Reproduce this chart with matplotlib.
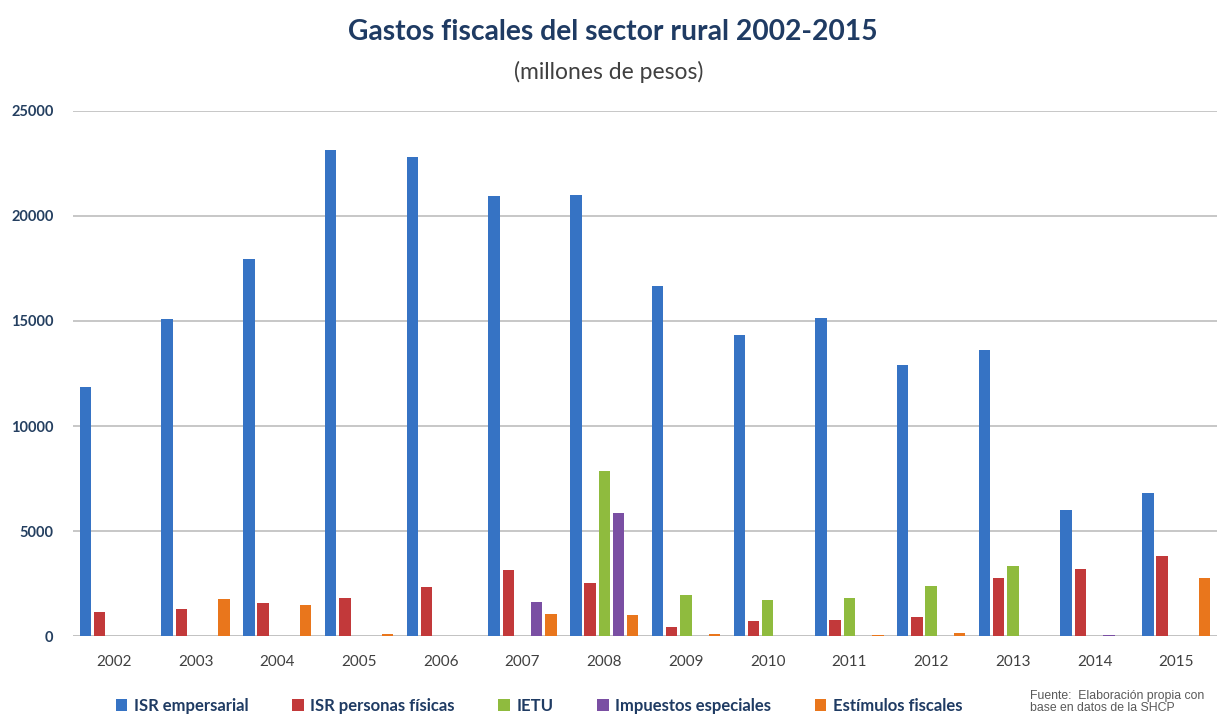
import matplotlib.pyplot as plt
from matplotlib.patches import Patch
import numpy as np

years = ['2002', '2003', '2004', '2005', '2006', '2007', '2008',
         '2009', '2010', '2011', '2012', '2013', '2014', '2015']

isr_empresarial = [11850, 15100, 17950, 23150, 22800, 20950, 21000,
                   16650, 14350, 15150, 12900, 13600, 6000, 6800]
isr_personas = [1150, 1300, 1570, 1830, 2330, 3140, 2510,
                450, 700, 760, 890, 2750, 3190, 3810]
ietu = [0, 0, 0, 0, 0, 0, 7850, 1940, 1700, 1830, 2380, 3320, 0, 0]
impuestos_especiales = [0, 0, 0, 0, 0, 1630, 5870, 0, 0, 0, 0, 0, 60, 0]
estimulos = [0, 1760, 1460, 80, 0, 1060, 1000, 80, 0, 60, 140, 0, 0, 2750]

series_names = ['ISR empersarial', 'ISR personas físicas', 'IETU',
                'Impuestos especiales', 'Estímulos fiscales']
series = [isr_empresarial, isr_personas, ietu, impuestos_especiales, estimulos]
colors = ['#3673c4', '#c2393a', '#8fbb3e', '#7a4fa3', '#e9761c']

plt.rcParams['font.family'] = ['Lato', 'DejaVu Sans']

fig = plt.figure(figsize=(12.25, 7.23), dpi=100)
ax = fig.add_axes([0.0596, 0.1203, 0.934, 0.7262])

x = np.arange(len(years))
pitch = 0.174
width = 0.14
for k, (vals, clr) in enumerate(zip(series, colors)):
    ax.bar(x + (k - 2) * pitch, vals, width=width, color=clr, zorder=3)

ax.set_xlim(-0.5, len(years) - 0.5)
ax.set_ylim(0, 25000)
ax.set_yticks([0, 5000, 10000, 15000, 20000, 25000])
ax.set_xticks(x)
ax.set_xticklabels(years)
ax.grid(axis='y', color='#c3c3c3', linewidth=1.3, zorder=0)
ax.set_axisbelow(True)
for s in ax.spines.values():
    s.set_visible(False)
ax.tick_params(axis='both', length=0)
ax.tick_params(axis='y', pad=14, labelsize=10.5, labelcolor='#243f60')
ax.tick_params(axis='x', pad=14, labelsize=11, labelcolor='#404040')
for lbl in ax.get_yticklabels():
    lbl.set_fontweight('bold')
ax.axhline(0, color='#c3c3c3', linewidth=1.3, zorder=1)

fig.text(0.5, 0.956, 'Gastos fiscales del sector rural 2002-2015',
         ha='center', va='center', fontsize=20.3, fontweight='bold', color='#1f3b63')
fig.text(0.497, 0.9, '(millones de pesos)', ha='center', va='center',
         fontsize=16.5, color='#404040')

handles = [Patch(facecolor=c, label=n) for c, n in zip(colors, series_names)]
leg = fig.legend(handles=handles, loc='center', bbox_to_anchor=(0.44, 0.024),
                 ncol=5, frameon=False, handlelength=0.7, handleheight=0.7,
                 handletextpad=0.4, columnspacing=2.6,
                 prop={'size': 12, 'weight': 'bold'})
for t in leg.get_texts():
    t.set_color('#1f3b63')

fig.text(0.841, 0.012, 'Fuente:  Elaboración propia con\nbase en datos de la SHCP',
         ha='left', va='bottom', fontsize=8.8, color='#595959',
         family='Liberation Sans', linespacing=1.05)

fig.savefig('out.png', dpi=100)
